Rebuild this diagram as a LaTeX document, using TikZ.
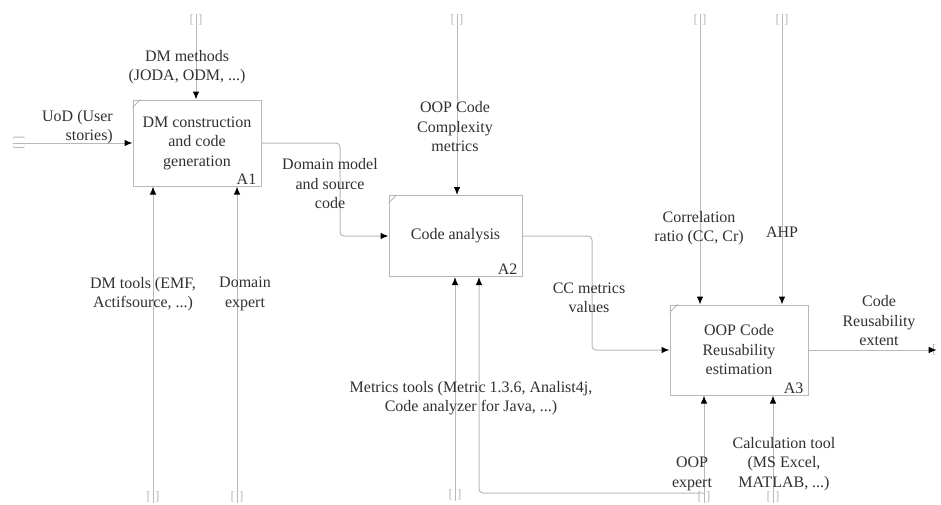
\documentclass[tikz,border=0pt]{standalone}
\usepackage{fontspec}
\setmainfont{Liberation Serif}
\newfontfamily\tms{Liberation Serif}
\usetikzlibrary{arrows.meta,calc}
\definecolor{ln}{HTML}{B8B8B8}
\definecolor{txt}{HTML}{303030}
\begin{document}
\begin{tikzpicture}[x=1pt,y=-1pt,
  box/.style={draw=ln, line width=1pt, fill=white, inner sep=0pt, text=txt,
    font=\tms\fontsize{16}{19.5}\selectfont, align=center},
  lbl/.style={text=txt, font=\tms\fontsize{16}{19.5}\selectfont, align=center, inner sep=1pt},
  num/.style={text=txt, font=\tms\fontsize{16}{19.5}\selectfont, inner sep=1pt},
  brk/.style={text=ln, font=\tms\fontsize{13}{13}\selectfont, inner sep=0pt},
  flow/.style={draw=ln, line width=1pt, rounded corners=4pt,
    -{Latex[color=black,length=8pt,width=6.5pt]}},
  tick/.style={draw=ln, line width=0.8pt}
]
\useasboundingbox (0,0) rectangle (941,504);

% boxes
\node[box, minimum width=128pt, minimum height=86pt] (A1) at (197,143) {DM construction\\and code\\generation};
\node[box, minimum width=133pt, minimum height=81pt] (A2) at (455.5,236) {Code analysis};
\node[box, minimum width=138pt, minimum height=90pt] (A3) at (739,350) {OOP Code\\Reusability\\estimation};

\draw[tick] ($(A1.north west)+(0,8)$) -- ($(A1.north west)+(8,0)$);
\draw[tick] ($(A2.north west)+(0,8)$) -- ($(A2.north west)+(8,0)$);
\draw[tick] ($(A3.north west)+(0,8)$) -- ($(A3.north west)+(8,0)$);

\node[num, anchor=south east] (n1) at ($(A1.south east)+(-4,-1)$) {A1};
\node[num, anchor=south east] (n2) at ($(A2.south east)+(-4,-1)$) {A2};
\node[num, anchor=south east] (n3) at ($(A3.south east)+(-4,-1)$) {A3};

% tunnel brackets
\node[brk] (t1) at (196,20) {[\,\,]};
\node[brk] (t2) at (457,20) {[\,\,]};
\node[brk] (t3) at (700,20) {[\,\,]};
\node[brk] (t4) at (782,20) {[\,\,]};
\node[brk, rotate=90] (l1) at (19,143) {[\,\,]};
\node[brk, anchor=west] (r1) at (932,350) {[};
\node[brk] (b1) at (153,497) {[\,\,]};
\node[brk] (b2) at (237,497) {[\,\,]};
\node[brk] (b3) at (455,495) {[\,\,]};
\node[brk] (b4) at (704,497) {[\,\,]};
\node[brk] (b5) at (773,497) {[\,\,]};

\coordinate (k1) at (340,190);
\coordinate (k2) at (592,300);
\coordinate (k3) at (479,493);

% controls
\draw[flow] (t1.north) -- (t1 |- A1.north);
\draw[flow] (t2.north) -- (t2 |- A2.north);
\draw[flow] (t3.north) -- (t3 |- A3.north);
\draw[flow] (t4.north) -- (t4 |- A3.north);

% input / outputs
\draw[flow] (l1.north) -- (l1 -| A1.west);
\draw[flow] (A1.east) -| (k1) |- (A2.west);
\draw[flow] (A2.east) -| (k2) |- (A3.west);
\draw[flow] (A3.east) -- (r1.east);

% mechanisms
\draw[flow] (b1.south) -- (b1 |- A1.south);
\draw[flow] (b2.south) -- (b2 |- A1.south);
\draw[flow] (b3.south) -- (b3 |- A2.south);
\draw[flow] (b4.south) -- (b4 |- A3.south);
\draw[flow] (b5.south) -- (b5 |- A3.south);
\draw[flow] (b4 |- k3) -- (k3) -- (k3 |- A2.south);

% labels
\node[lbl] (L1) at (187,67) {DM methods\\(JODA, ODM, ...)};
\node[lbl, align=right, anchor=east] (L2) at (114,127) {UoD (User\\stories)};
\node[lbl] (L3) at (330,184) {Domain model\\and source\\code};
\node[lbl] (L4) at (455,127) {OOP Code\\Complexity\\metrics};
\node[lbl] (L5) at (589,298) {CC metrics\\values};
\node[lbl] (L6) at (699,228) {Correlation\\ratio (CC, Cr)};
\node[lbl] (L7) at (782,232) {AHP};
\node[lbl] (L8) at (879,321) {Code\\Reusability\\extent};
\node[lbl] (L9) at (143,294) {DM tools (EMF,\\Actifsource, ...)};
\node[lbl] (L10) at (245,294) {Domain\\expert};
\node[lbl] (L11) at (471,398) {Metrics tools (Metric 1.3.6, Analist4j,\\Code analyzer for Java, ...)};
\node[lbl] (L12) at (692,474) {OOP\\expert};
\node[lbl] (L13) at (784,464) {Calculation tool\\(MS Excel,\\MATLAB, ...)};
\end{tikzpicture}
\end{document}
